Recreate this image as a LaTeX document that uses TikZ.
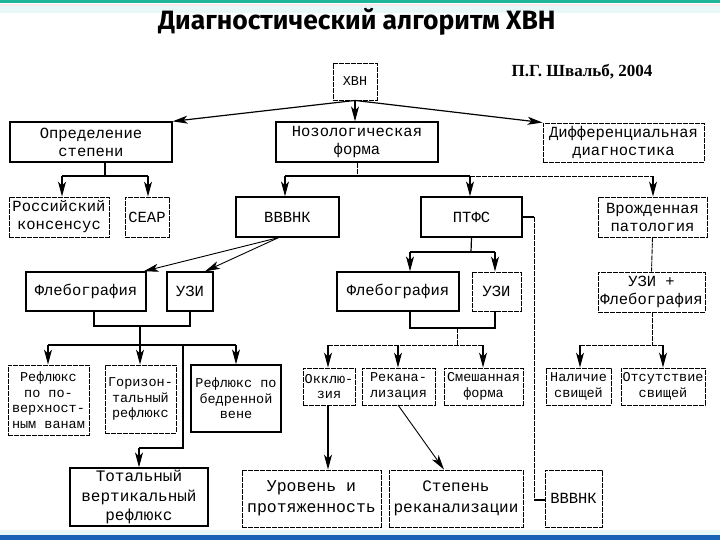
\documentclass[tikz,border=0pt]{standalone}
\usepackage{fontspec}
\newfontfamily\boxfont{Liberation Mono}
\newfontfamily\titlefont{Fira Sans}
\newfontfamily\authfont{Liberation Serif}
\usetikzlibrary{arrows.meta}
\definecolor{teal1}{HTML}{1FB59B}
\definecolor{blue1}{HTML}{1A62B8}
\definecolor{cyanl}{HTML}{E8F8F8}
\definecolor{pinkl}{HTML}{FBE9EE}
\begin{document}
\begin{tikzpicture}[x=1pt,y=-1pt,
 box/.style={draw=black, line width=1.3pt, inner sep=0pt, align=center, font={\boxfont\fontsize{15.5}{18}\selectfont}},
 rbox/.style={box, line width=0.9pt, dash pattern=on 5pt off 1pt},
 small/.style={font={\boxfont\fontsize{13.5}{15.5}\selectfont}},
 ln/.style={line width=1.2pt},
 rln/.style={line width=0.9pt, dash pattern=on 5pt off 1pt},
 arr/.style={line width=1.2pt, -{Stealth[length=15pt,width=8pt,inset=4pt]}}]
\useasboundingbox (0,0) rectangle (720,540);
\fill[white] (0,0) rectangle (720,540);
\fill[teal1] (0,0) rectangle (720,3);
\fill[pinkl] (0,4) rectangle (720,6);
\fill[cyanl] (0,6) rectangle (720,13);
\fill[cyanl] (0,530) rectangle (720,535);
\fill[blue1] (0,535) rectangle (720,540);

\node[font={\titlefont\bfseries\fontsize{26.5}{30}\selectfont}] (title) at (357,22) {Диагностический алгоритм ХВН};
\node[font={\authfont\bfseries\fontsize{17}{20}\selectfont}] (auth) at (582,72) {П.Г. Швальб, 2004};

% boxes
\node[rbox, small, minimum width=44, minimum height=37] (hvn) at (355,81.5) {ХВН};
\node[box, minimum width=162, minimum height=40] (opr) at (91,142) {Определение\\степени};
\node[box, minimum width=162, minimum height=40] (noz) at (357,142) {Нозологическая\\форма};
\node[rbox, minimum width=161, minimum height=39] (diff) at (623.5,142.5) {Дифференциальная\\диагностика};
\node[rbox, minimum width=100, minimum height=40] (rus) at (59,217) {Российский\\консенсус};
\node[rbox, minimum width=44, minimum height=40] (ceap) at (147,217) {СЕАР};
\node[box, minimum width=103, minimum height=40] (vvvnk1) at (287.5,217) {ВВВНК};
\node[box, minimum width=101, minimum height=40] (ptfs) at (471.5,217) {ПТФС};
\node[rbox, minimum width=109, minimum height=40] (vrozh) at (652.5,217) {Врожденная\\патология};
\node[box, minimum width=120, minimum height=39] (fleb1) at (86,291.5) {Флебография};
\node[box, minimum width=46, minimum height=39] (uzi1) at (190,291.5) {УЗИ};
\node[box, minimum width=122, minimum height=39] (fleb2) at (398,291.5) {Флебография};
\node[rbox, minimum width=49, minimum height=39] (uzi2) at (496.5,291.5) {УЗИ};
\node[rbox, minimum width=107, minimum height=40] (uzifl) at (651.5,292) {УЗИ +\\Флебография};
\node[rbox, small, minimum width=81, minimum height=70] (refl1) at (48.5,400) {Рефлюкс\\по по-\\верхност-\\ным ванам};
\node[rbox, small, minimum width=71, minimum height=68] (horiz) at (140.5,399) {Горизон-\\тальный\\рефлюкс};
\node[box, small, minimum width=90, minimum height=67] (refl2) at (236,398.5) {Рефлюкс по\\бедренной\\вене};
\node[box, minimum width=138, minimum height=58, font={\boxfont\fontsize{16}{19.5}\selectfont}] (total) at (139,497) {Тотальный\\вертикальный\\рефлюкс};
\node[rbox, small, minimum width=52, minimum height=37] (okkl) at (329,386.5) {Окклю-\\зия};
\node[rbox, small, minimum width=73, minimum height=37] (rekan) at (398.5,386.5) {Рекана-\\лизация};
\node[rbox, small, minimum width=79, minimum height=37] (smesh) at (483.5,386.5) {Смешанная\\форма};
\node[rbox, minimum width=139, minimum height=57, font={\boxfont\fontsize{16.5}{21}\selectfont}] (level) at (311.5,498.5) {Уровень и\\протяженность};
\node[rbox, minimum width=134, minimum height=57, font={\boxfont\fontsize{16}{21}\selectfont}] (stepen) at (456,498.5) {Степень\\реканализации};
\node[rbox, minimum width=57, minimum height=57] (vvvnk2) at (573.5,498.5) {ВВВНК};
\node[rbox, small, minimum width=65, minimum height=37] (nalich) at (578.5,386.5) {Наличие\\свищей};
\node[rbox, small, minimum width=84, minimum height=37] (otsut) at (663,386.5) {Отсутствие\\свищей};

% junction coordinates
\coordinate (a0) at (105,176);
\coordinate (a1) at (62,176);
\coordinate (a2) at (148,176);
\coordinate (b0) at (357,176);
\coordinate (b1) at (285,176);
\coordinate (b2) at (470,176);
\coordinate (b3) at (653,176);
\coordinate (c0) at (140,326);
\coordinate (c1) at (94,326);
\coordinate (c2) at (190,326);
\coordinate (d0) at (140,345);
\coordinate (d1) at (48,345);
\coordinate (d2) at (236,345);
\coordinate (d3) at (183,345);
\coordinate (d4) at (183,448);
\coordinate (d5) at (139,448);
\coordinate (e0) at (471,252);
\coordinate (e1) at (410,252);
\coordinate (e2) at (495,252);
\coordinate (f0) at (457,328);
\coordinate (f1) at (410,328);
\coordinate (f2) at (495,328);
\coordinate (g0) at (457,345);
\coordinate (g1) at (328,345);
\coordinate (g2) at (398,345);
\coordinate (g3) at (483,345);
\coordinate (h0) at (534,217);
\coordinate (h1) at (534,500);
\coordinate (k0) at (652,345);
\coordinate (k1) at (580,345);
\coordinate (k2) at (663,345);
\coordinate (r0) at (398,405);

% connectors
\draw[arr] (hvn.south) -- (opr.north east);
\draw[arr] (hvn.south) -- (hvn.south |- noz.north);
\draw[arr] (hvn.south) -- (diff.north west);

\draw[ln] (a0 |- opr.south) -- (a0);
\draw[ln] (a1) -- (a2);
\draw[arr] (a1) -- (a1 |- rus.north);
\draw[arr] (a2) -- (a2 |- ceap.north);

\draw[rln] (noz.south) -- (b0);
\draw[ln] (b1) -- (b2);
\draw[rln] (b2) -- (b3);
\draw[arr] (b1) -- (b1 |- vvvnk1.north);
\draw[arr] (b2) -- (b2 |- ptfs.north);
\draw[arr] (b3) -- (b3 |- vrozh.north);

\draw[arr, line width=0.9pt] ([xshift=-9pt]vvvnk1.south) -- ([xshift=-3pt]fleb1.north east);
\draw[arr, line width=0.9pt] ([xshift=-9pt]vvvnk1.south) -- ([xshift=15pt]uzi1.north);

\draw[ln] (c1 |- fleb1.south) -- (c1) -- (c2) -- (c2 |- uzi1.south);
\draw[ln] (c0) -- (d0);
\draw[ln] (d1) -- (d2);
\draw[arr] (d1) -- (d1 |- refl1.north);
\draw[arr] (d0) -- (d0 |- horiz.north);
\draw[arr] (d2) -- (d2 |- refl2.north);
\draw[ln] (d3) -- (d4) -- (d5);
\draw[arr] (d5) -- (total.north);

\draw[ln] (ptfs.south) -- (e0);
\draw[ln] (e1) -- (e2);
\draw[arr] (e1) -- (e1 |- fleb2.north);
\draw[arr] (e2) -- (e2 |- uzi2.north);

\draw[ln] (f1 |- fleb2.south) -- (f1) -- (f2) -- (f2 |- uzi2.south);
\draw[rln] (f0) -- (g0);
\draw[rln] (g1) -- (g3);
\draw[arr] (g1) -- (g1 |- okkl.north);
\draw[arr] (g2) -- (g2 |- rekan.north);
\draw[arr] (g3) -- (g3 |- smesh.north);

\draw[arr] (okkl.south -| g1) -- (g1 |- level.north);
\draw[arr, line width=0.9pt] (r0) -- ([xshift=-12pt]stepen.north);

\draw[ln] (ptfs.east) -- (h0);
\draw[rln] (h0) -- (h1);
\draw[ln] (h1) -- (vvvnk2.west |- h1);

\draw[rln] (vrozh.south) -- (uzifl.north);
\draw[rln] (uzifl.south -| k0) -- (k0);
\draw[rln] (k1) -- (k2);
\draw[arr] (k1) -- (k1 |- nalich.north);
\draw[arr] (k2) -- (k2 |- otsut.north);
\end{tikzpicture}
\end{document}
